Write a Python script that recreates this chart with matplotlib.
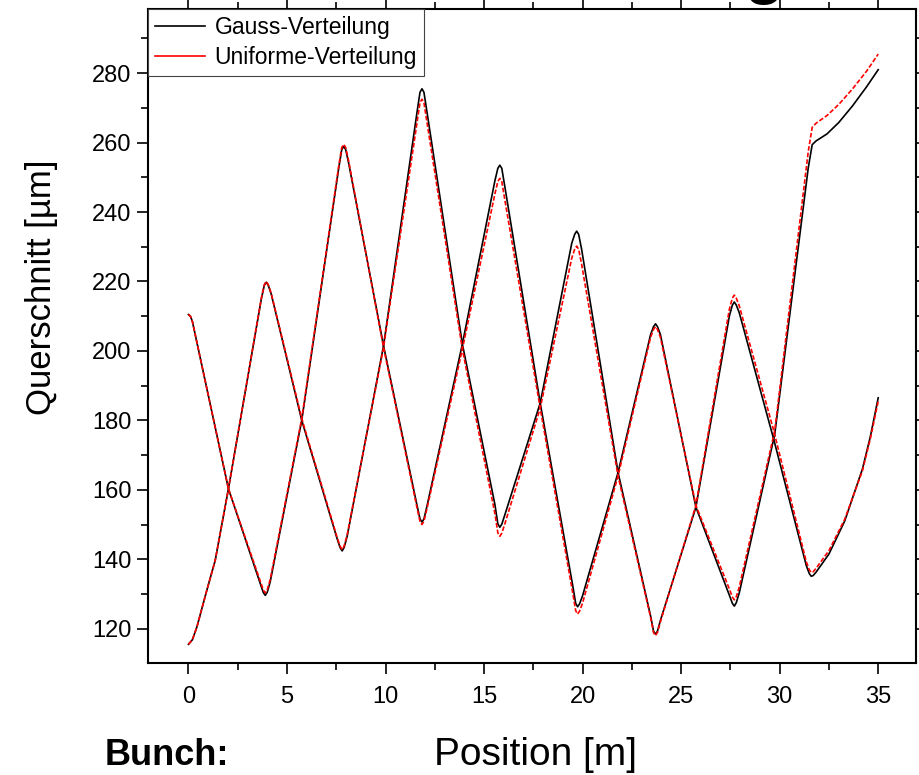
import matplotlib
matplotlib.use('Agg')
import matplotlib.pyplot as plt
from matplotlib.lines import Line2D
from matplotlib.ticker import MultipleLocator

plt.rcParams['font.family'] = ['Liberation Sans', 'DejaVu Sans']

# Strahlquerschnitt entlang der Position, zwei Ebenen (A startet oben, B unten)
pos_a = [0, 0.1, 0.2, 2.03, 3.65, 3.8, 3.9, 4.0, 4.15, 5.75, 7.63, 7.78, 7.88, 7.98, 8.13,
         9.9, 11.6, 11.75, 11.85, 11.95, 12.1, 13.9, 15.55, 15.7, 15.8, 15.9, 16.05, 17.85,
         19.5, 19.65, 19.75, 19.85, 20.0, 21.8, 23.45, 23.6, 23.7, 23.8, 23.95, 25.75,
         27.45, 27.6, 27.7, 27.8, 27.95, 29.75, 31.45, 31.65, 31.85, 32.4, 33.0, 33.7, 34.4, 35]
gauss_a = [210.5, 210.0, 208.5, 160.3, 132.9, 130.4, 129.6, 130.5, 133.5, 180, 252.8, 258.0,
           258.9, 258.0, 254.1, 201.5, 155.5, 151.6, 150.7, 151.6, 155.2, 202, 249, 252.6,
           253.5, 252.6, 247.5, 185, 132.4, 127.3, 126.3, 127.2, 129.5, 165, 204.7, 207.0,
           207.8, 207.0, 204.7, 155, 129.6, 127.3, 126.5, 127.5, 130.3, 176, 252.7, 259.4,
           260.5, 262.5, 265.8, 270.6, 276, 281]
uniform_a = [210.5, 210.0, 208.5, 160.3, 133.6, 131.1, 130.3, 131.2, 134.2, 180.5, 253.4, 258.6,
             259.5, 258.6, 254.7, 201, 154.8, 150.9, 150.0, 150.9, 154.5, 200.5, 245.2, 248.8,
             249.7, 248.8, 243.7, 183.5, 130.3, 125.2, 124.2, 125.1, 127.4, 164, 203.9, 206.2,
             207.0, 206.2, 203.9, 155.5, 131.4, 129.1, 128.3, 129.2, 132.0, 177, 257.4, 264.4,
             265.6, 267.8, 271, 275.5, 280.5, 285.5]

pos_b = [0, 0.2, 0.43, 0.93, 1.36, 2.03, 3.7, 3.85, 3.95, 4.05, 4.2, 5.75, 7.55, 7.7, 7.8, 7.9,
         8.05, 9.9, 11.6, 11.75, 11.85, 11.95, 12.1, 13.9, 15.55, 15.7, 15.8, 15.9, 16.05, 17.85,
         19.45, 19.6, 19.7, 19.8, 19.95, 21.8, 23.45, 23.6, 23.7, 23.8, 23.95, 25.75, 27.45,
         27.6, 27.7, 27.8, 27.95, 29.7, 31.35, 31.5, 31.6, 31.7, 31.85, 32.5, 33.3, 34.2, 34.6,
         35]
gauss_b = [115.5, 116.8, 120.5, 131, 139.7, 160.3, 215, 218.9, 219.8, 218.9, 216.4, 180, 145.8,
           143.3, 142.4, 143.4, 146.5, 201.5, 268.8, 274.5, 275.5, 274.5, 269, 202, 155.8, 150.2,
           149.2, 150.1, 152.7, 185, 231, 233.6, 234.5, 233.6, 229.3, 165, 123.7, 119.3, 118.4,
           119.3, 122.4, 155, 210.1, 213.2, 214.1, 213.2, 211, 174.5, 138.2, 135.9, 135.1,
           135.3, 136.3, 141.5, 151, 166, 175.3, 186.5]
uniform_b = [115.5, 116.8, 120.5, 131, 139.7, 160.3, 215.2, 219.1, 220.0, 219.1, 216.6, 180.5,
             146.2, 143.7, 142.8, 143.8, 146.9, 201, 265.8, 271.5, 272.5, 271.5, 266, 200.5,
             153.2, 147.6, 146.6, 147.5, 150.1, 183.5, 226.7, 229.3, 230.2, 229.3, 225, 164,
             123.3, 118.9, 118.0, 118.9, 122, 155.5, 212.1, 215.2, 216.1, 215.2, 213, 177, 139.3,
             137.0, 136.2, 136.4, 137.4, 142.5, 151.5, 165.5, 174.7, 185.5]

labels = ['Gauss-Verteilung', 'Uniforme-Verteilung']

fig = plt.figure(figsize=(9.2, 7.75), dpi=100)
ax = fig.add_axes([0.1609, 0.1449, 0.9957 - 0.1609, 0.988 - 0.1449])

ax.plot(pos_a, gauss_a, color='black', lw=1.2)
ax.plot(pos_b, gauss_b, color='black', lw=1.2)
ax.plot(pos_a, uniform_a, color='red', lw=1.2, dashes=(2.8, 1.2))
ax.plot(pos_b, uniform_b, color='red', lw=1.2, dashes=(2.8, 1.2))

ax.set_xlim(-2.05, 36.92)
ax.set_ylim(110.2, 298.4)
ax.xaxis.set_major_locator(MultipleLocator(5))
ax.xaxis.set_minor_locator(MultipleLocator(2.5))
ax.yaxis.set_major_locator(MultipleLocator(20))
ax.yaxis.set_minor_locator(MultipleLocator(10))

for s in ax.spines.values():
    s.set_linewidth(1.5)
ax.tick_params(which='both', direction='out', top=True, right=True, width=1.2)
ax.tick_params(which='major', length=8, labelsize=17)
ax.tick_params(which='minor', length=5)
ax.tick_params(axis='x', pad=9)
ax.tick_params(axis='y', pad=4)

handles = [Line2D([], [], color='black', lw=1.2), Line2D([], [], color='red', lw=1.2)]
leg = ax.legend(handles, labels, loc='upper left', borderaxespad=0, fontsize=16.5,
                handlelength=2.2, handletextpad=0.4, labelspacing=0.3, borderpad=0.3,
                fancybox=False, framealpha=1)
leg.get_frame().set_edgecolor('#444444')
leg.get_frame().set_linewidth(0.8)

fig.text(42 / 920, 1 - 287 / 775, 'Querschnitt [µm]', rotation=90, ha='center', va='center',
         fontsize=25)
fig.text(536 / 920, 1 - 765 / 775, 'Position [m]', ha='center', va='baseline', fontsize=28)
fig.text(105 / 920, 1 - 765 / 775, 'Bunch:', ha='left', va='baseline', fontsize=26,
         fontweight='bold')
# Rest der Überschrift oberhalb des Bildes
fig.text(764 / 920, 1 + 7.5 / 775, 'g', ha='center', va='baseline', fontsize=46,
         fontweight='bold')

fig.savefig('out.png', dpi=100)
